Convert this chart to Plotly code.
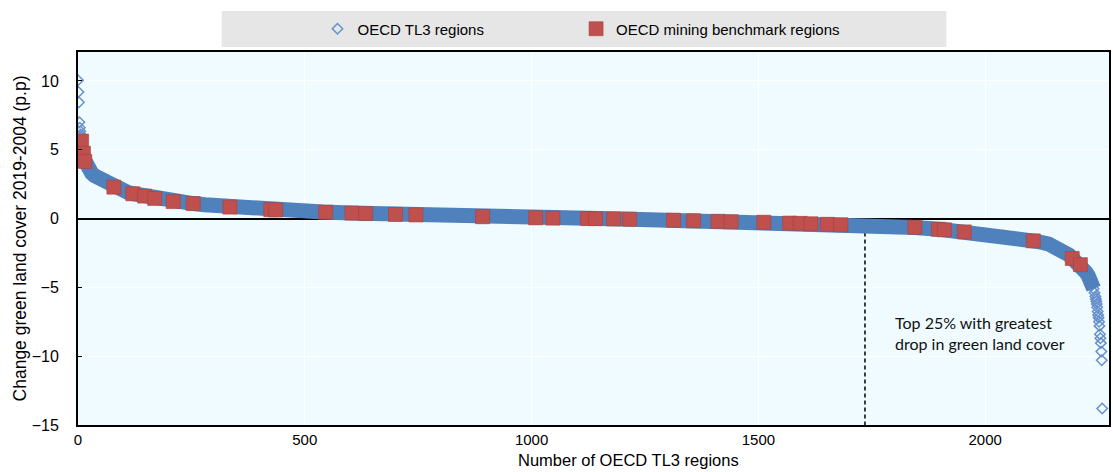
import plotly.graph_objects as go

# ---- data ----
# sorted change in green land cover (p.p.) by rank of OECD TL3 region
region_rank = [0, 1, 2, 3, 4, 5, 6, 7, 8, 9, 10, 11, 12, 13, 14, 15, 16, 18, 20, 22, 25, 30, 36, 44, 52, 60, 70, 80, 90, 100,
               110, 121, 134, 147, 158, 169, 190, 210, 230, 254, 280, 300, 335, 380, 430, 480, 540, 600, 660, 720,
               780, 840, 900, 972, 1040, 1100, 1150, 1200, 1260, 1320, 1370, 1420, 1470, 1520, 1570, 1620, 1680, 1735,
               1790, 1845, 1904, 1955, 2000, 2040, 2080, 2116, 2140, 2160, 2175, 2185, 2194, 2202, 2210, 2217, 2222,
               2227, 2232, 2236, 2239, 2241, 2243, 2244, 2245, 2246, 2247, 2248, 2249, 2250, 2251, 2252, 2253, 2254,
               2255, 2256, 2257, 2258]
green_change = [10.05, 9.2, 8.45, 7.0, 6.6, 6.35, 6.1, 5.9, 5.65, 5.45, 5.2, 5.0, 4.8, 4.65, 4.45, 4.3, 4.15, 3.95, 3.8, 3.68,
                3.5, 3.3, 3.12, 2.96, 2.78, 2.64, 2.45, 2.28, 2.13, 2.0, 1.9, 1.8, 1.71, 1.62, 1.54, 1.46, 1.34, 1.24,
                1.16, 1.09, 1.0, 0.94, 0.83, 0.72, 0.63, 0.55, 0.47, 0.40, 0.33, 0.27, 0.22, 0.17, 0.12, 0.06, 0.03,
                0.01, -0.01, -0.04, -0.08, -0.12, -0.17, -0.21, -0.25, -0.29, -0.33, -0.38, -0.45, -0.52, -0.57,
                -0.65, -0.8, -0.95, -1.1, -1.26, -1.45, -1.67, -1.85, -2.1, -2.4, -2.65, -2.95, -3.15, -3.35, -3.65,
                -3.9, -4.15, -4.5, -4.8, -5.1, -5.4, -5.66, -5.85, -6.0, -6.2, -6.45, -6.75, -7.0, -7.2, -7.5, -7.8,
                -8.4, -8.7, -9.05, -9.66, -10.3, -13.8]

# mining benchmark regions (rank, change)
mining_rank = [8, 12, 15, 79, 121, 147, 169, 210, 254, 335, 425, 436, 546, 604, 634, 700, 745, 892, 1009, 1047,
               1123, 1141, 1181, 1216, 1313, 1357, 1411, 1440, 1512, 1569, 1592, 1616, 1652, 1682, 1845, 1897, 1910,
               1954, 2106, 2192, 2210]
mining_change = [5.63, 4.75, 4.15, 2.28, 1.8, 1.63, 1.46, 1.23, 1.09, 0.83, 0.64, 0.62, 0.46, 0.40, 0.36, 0.30, 0.26,
                 0.13, 0.05, 0.03, 0.0, -0.01, -0.03, -0.05, -0.12, -0.16, -0.20, -0.23, -0.27, -0.33, -0.35, -0.38,
                 -0.42, -0.45, -0.63, -0.78, -0.82, -0.97, -1.62, -2.9, -3.35]

threshold_rank = 1735          # top 25% with greatest drop
x_ticks = [0, 500, 1000, 1500, 2000]
y_ticks = [-15, -10, -5, 0, 5, 10]
x_range = [0, 2273]
y_range = [-15, 12.1]

BLUE = "#4F81BD"
BLUE_LIGHT = "#6790CC"
RED = "#C0504D"
FONT = "Liberation Sans, Arial, sans-serif"

# dense central part drawn as a continuous band (overlapping markers in the original)
band_x = [r for r in region_rank if 16 <= r <= 2239]
band_y = [v for r, v in zip(region_rank, green_change) if 16 <= r <= 2239]

fig = go.Figure()

fig.add_trace(go.Scatter(x=[threshold_rank, threshold_rank], y=[0, y_range[0]], mode="lines",
                         line=dict(color="black", width=1.5, dash="4px,3px"), showlegend=False, hoverinfo="skip"))
fig.add_trace(go.Scatter(x=region_rank, y=green_change, mode="markers", name="OECD TL3 regions", legend="legend",
                         marker=dict(symbol="diamond-open", size=8, color=BLUE_LIGHT,
                                     line=dict(width=1.5, color=BLUE_LIGHT))))
fig.add_trace(go.Scatter(x=band_x, y=band_y, mode="lines", line=dict(color=BLUE, width=15),
                         showlegend=False, hoverinfo="skip"))
fig.add_trace(go.Scatter(x=mining_rank, y=mining_change, mode="markers", name="OECD mining benchmark regions",
                         legend="legend2",
                         marker=dict(symbol="square", size=14, color=RED, line=dict(width=0.6, color="#A8423F"))))

fig.add_annotation(x=threshold_rank, y=-8.34, xref="x", yref="y", xanchor="left", yanchor="middle", xshift=28,
                   text="Top 25% with greatest<br>drop in green land cover", align="left", showarrow=False,
                   font=dict(family="Lato, Open Sans, sans-serif", size=16, color="#111111"))
fig.add_annotation(x=0.534, y=-0.0938, xref="paper", yref="paper", xanchor="center", yanchor="middle",
                   text="Number of OECD TL3 regions", showarrow=False,
                   font=dict(family=FONT, size=16.5, color="black"))

# grey legend background
fig.add_shape(type="rect", xref="paper", yref="paper", x0=0.1394, x1=0.8422, y0=1.0134, y1=1.1099,
              fillcolor="#E6E6E6", line=dict(width=0), layer="below")

leg_common = dict(orientation="h", y=1.0617, yanchor="middle", xanchor="left", bgcolor="rgba(0,0,0,0)",
                  font=dict(family=FONT, size=15, color="black"), itemwidth=30)

fig.update_layout(
    width=1113, height=472,
    margin=dict(l=78, r=2, t=52, b=47),
    paper_bgcolor="white",
    plot_bgcolor="#EFFBFE",
    showlegend=True,
    legend=dict(x=0.2323, **leg_common),
    legend2=dict(x=0.4831, **leg_common),
    xaxis=dict(range=x_range, tickvals=x_ticks, showgrid=True, gridcolor="white", gridwidth=1,
               showline=True, linecolor="black", linewidth=2, mirror=True, ticks="", zeroline=False,
               tickfont=dict(family=FONT, size=15, color="black")),
    xaxis2=dict(range=x_range, overlaying="x", anchor="free",
                position=(0 - y_range[0]) / (y_range[1] - y_range[0]), side="top",
                tickvals=x_ticks, ticks="outside", ticklen=5, tickcolor="black", tickwidth=1.3,
                showticklabels=False, showgrid=False, showline=False, zeroline=False, layer="below traces"),
    yaxis=dict(range=y_range, tickvals=y_ticks, showgrid=True, gridcolor="white", gridwidth=1,
               showline=True, linecolor="black", linewidth=2, mirror=True, ticks="inside", ticklen=4,
               tickcolor="black", zeroline=True, zerolinecolor="black", zerolinewidth=1.5,
               ticklabelstandoff=14,
               tickfont=dict(family=FONT, size=16, color="black"),
               title=dict(text="Change green land cover 2019-2004 (p.p)", standoff=1,
                          font=dict(family=FONT, size=17.5, color="black"))),
)

fig.write_html("out.html")
